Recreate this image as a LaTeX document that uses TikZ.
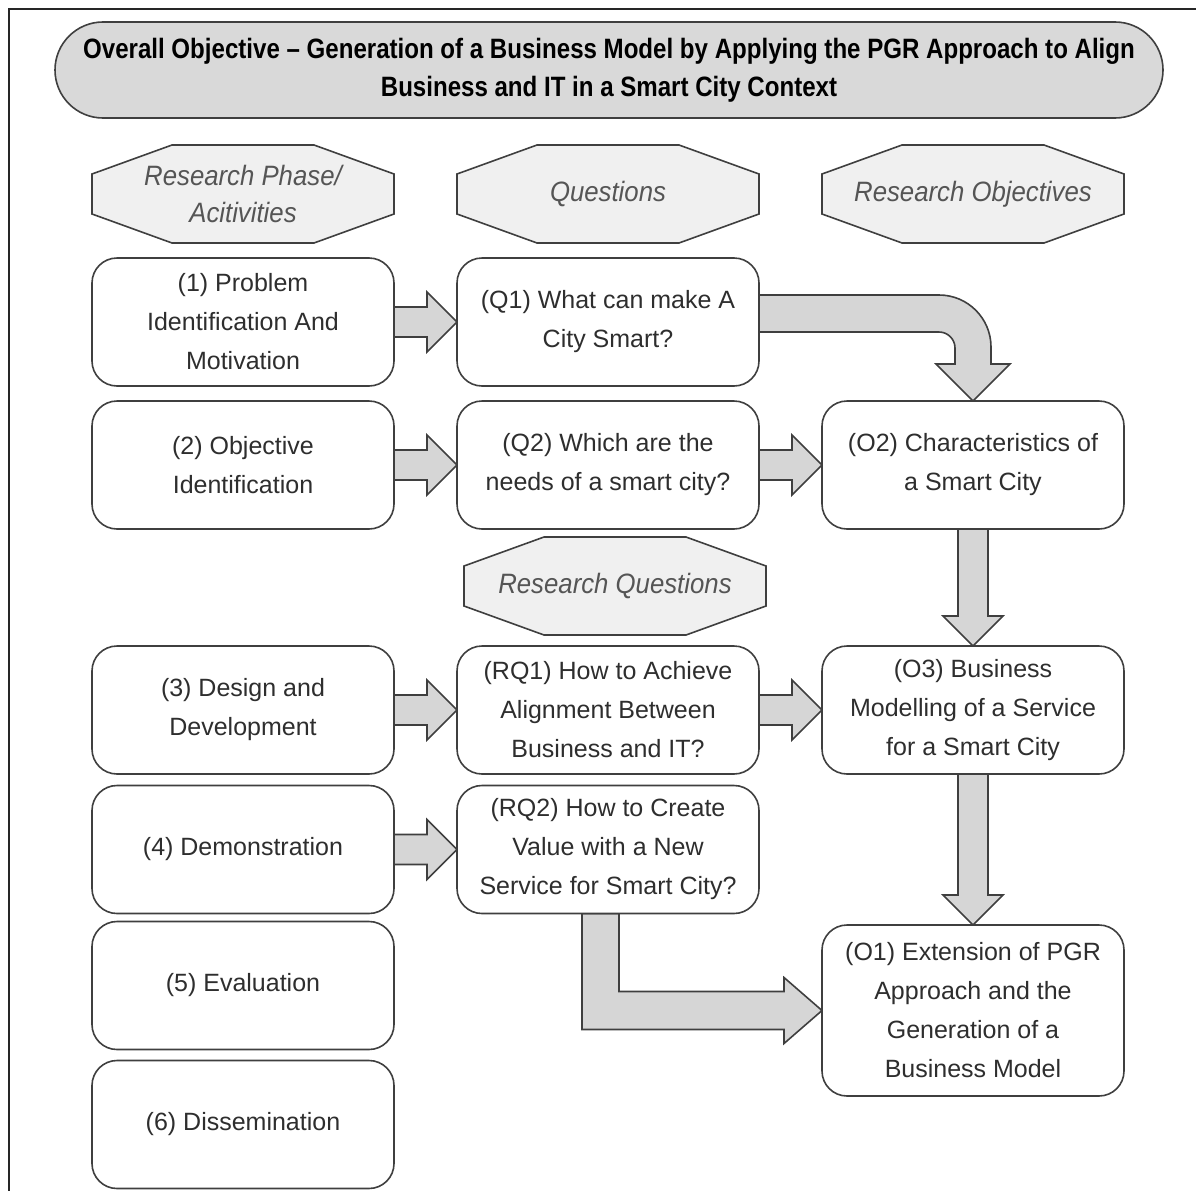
\documentclass[tikz,border=0pt]{standalone}
\usepackage{fontspec}
\setmainfont{Liberation Sans}
\newfontfamily\titlefont[FakeStretch=0.86]{Liberation Sans}
\newfontfamily\headfont[FakeStretch=0.92]{Liberation Sans}
\usetikzlibrary{calc,backgrounds}

\definecolor{linegray}{HTML}{3F3F3F}
\definecolor{framegray}{HTML}{262626}
\definecolor{textgray}{HTML}{2E2E2E}
\definecolor{headgray}{HTML}{555555}
\definecolor{bannerfill}{HTML}{D9D9D9}
\definecolor{hexfill}{HTML}{F0F0F0}
\definecolor{arrowfill}{HTML}{D6D6D6}

\tikzset{
  box/.style={rectangle, rounded corners=25pt, draw=linegray, line width=1.6pt,
    fill=white, minimum width=302pt, minimum height=128pt, inner sep=0pt,
    outer sep=0pt, align=center, text=textgray,
    font=\fontsize{25}{39}\selectfont},
  hexnode/.style={rectangle, minimum width=302pt, minimum height=98pt,
    inner sep=0pt, outer sep=0pt, align=center, text=headgray,
    font=\headfont\itshape\fontsize{28}{37}\selectfont},
  hexline/.style={draw=linegray, line width=1.6pt, fill=hexfill, line join=miter},
  banner/.style={rectangle, rounded corners=48pt, draw=linegray, line width=1.6pt,
    fill=bannerfill, minimum width=1108pt, minimum height=96pt, inner sep=0pt,
    align=center, text=black,
    font=\titlefont\bfseries\fontsize{28}{38}\selectfont},
  blockarrow/.style={draw=linegray, line width=1.6pt, fill=arrowfill, line join=miter},
  framestyle/.style={draw=framegray, line width=2pt}
}

% octagonal header frame around a header node
\newcommand\hexoutline[1]{%
  \draw[hexline] ($(#1.north west)+(80,0)$) -- ($(#1.north east)+(-80,0)$)
    -- ($(#1.north east)+(0,29)$) -- ($(#1.south east)+(0,-29)$)
    -- ($(#1.south east)+(-80,0)$) -- ($(#1.south west)+(80,0)$)
    -- ($(#1.south west)+(0,-29)$) -- ($(#1.north west)+(0,29)$) -- cycle;}

% horizontal block arrow from the east side of #1 to the west side of #2
\newcommand\hblock[2]{%
  \draw[blockarrow] ($(#1.east)+(0,-15)$) -- ($(#2.west)+(-30,-15)$)
    -- ($(#2.west)+(-30,-30)$) -- (#2.west) -- ($(#2.west)+(-30,30)$)
    -- ($(#2.west)+(-30,15)$) -- ($(#1.east)+(0,15)$) -- cycle;}

% vertical block arrow from the south side of #1 to the north side of #2
\newcommand\vblock[2]{%
  \draw[blockarrow] ($(#1.south)+(-15,0)$) -- ($(#2.north)+(-15,-30)$)
    -- ($(#2.north)+(-30,-30)$) -- (#2.north) -- ($(#2.north)+(30,-30)$)
    -- ($(#2.north)+(15,-30)$) -- ($(#1.south)+(15,0)$) -- cycle;}

\begin{document}
\begin{tikzpicture}[x=1pt,y=-1pt]
\useasboundingbox (0,0) rectangle (1196,1191);

% outer frame
\draw[framestyle] (1196,9) -- (9,9) -- (9,1191);

% overall objective banner
\node[banner] (title) at (609,70)
  {Overall Objective – Generation of a Business Model by Applying the PGR Approach to Align\\
   Business and IT in a Smart City Context};

% column headers
\node[hexnode] (hphase) at (243,194) {Research Phase/\\Acitivities};
\node[hexnode] (hq) at (608,194) {Questions};
\node[hexnode] (hobj) at (973,194) {Research Objectives};
\node[hexnode] (hrq) at (615,586) {Research Questions};

% research phases
\node[box] (p1) at (243,322) {(1) Problem\\Identification And\\Motivation};
\node[box] (p2) at (243,465) {(2) Objective\\Identification};
\node[box] (p3) at (243,710) {(3) Design and\\Development};
\node[box] (p4) at (243,849.5) {(4) Demonstration};
\node[box] (p5) at (243,985.5) {(5) Evaluation};
\node[box] (p6) at (243,1124.5) {(6) Dissemination};

% questions
\node[box] (q1) at (608,322) {(Q1) What can make A\\City Smart?};
\node[box] (q2) at (608,465) {(Q2) Which are the\\needs of a smart city?};
\node[box] (rq1) at (608,710) {(RQ1) How to Achieve\\Alignment Between\\Business and IT?};
\node[box] (rq2) at (608,849.5) {(RQ2) How to Create\\Value with a New\\Service for Smart City?};

% objectives
\node[box] (o2) at (973,465) {(O2) Characteristics of\\a Smart City};
\node[box] (o3) at (973,710) {(O3) Business\\Modelling of a Service\\for a Smart City};
\node[box, minimum height=171pt] (o1) at (973,1010.5)
  {(O1) Extension of PGR\\Approach and the\\Generation of a\\Business Model};

\begin{scope}[on background layer]
  \hexoutline{hphase}
  \hexoutline{hq}
  \hexoutline{hobj}
  \hexoutline{hrq}

  \hblock{p1}{q1}
  \hblock{p2}{q2}
  \hblock{q2}{o2}
  \hblock{p3}{rq1}
  \hblock{rq1}{o3}
  \hblock{p4}{rq2}
  \vblock{o2}{o3}
  \vblock{o3}{o1}

  % bent arrow from Q1 down into O2
  \coordinate (k1) at (o2.north |- q1.east);
  \draw[blockarrow] ($(q1.east)+(0,-27)$) -- ($(k1)+(-34,-27)$)
    .. controls ($(k1)+(-5.3,-27)$) and ($(k1)+(18,-3.7)$) .. ($(k1)+(18,25)$)
    -- ($(o2.north)+(18,-37)$) -- ($(o2.north)+(37,-37)$) -- (o2.north)
    -- ($(o2.north)+(-37,-37)$) -- ($(o2.north)+(-18,-37)$) -- ($(k1)+(-18,26)$)
    .. controls ($(k1)+(-18,17.2)$) and ($(k1)+(-25.2,10)$) .. ($(k1)+(-34,10)$)
    -- ($(q1.east)+(0,10)$) -- cycle;

  % elbow arrow from RQ2 to O1
  \coordinate (k2) at (rq2.south |- o1.west);
  \draw[blockarrow] ($(rq2.south)+(-26,0)$) -- ($(k2)+(-26,19)$)
    -- ($(o1.west)+(-38,19)$) -- ($(o1.west)+(-38,33)$) -- (o1.west)
    -- ($(o1.west)+(-38,-33)$) -- ($(o1.west)+(-38,-19)$)
    -- ($(k2)+(11,-19)$) -- ($(rq2.south)+(11,0)$) -- cycle;
\end{scope}
\end{tikzpicture}
\end{document}
